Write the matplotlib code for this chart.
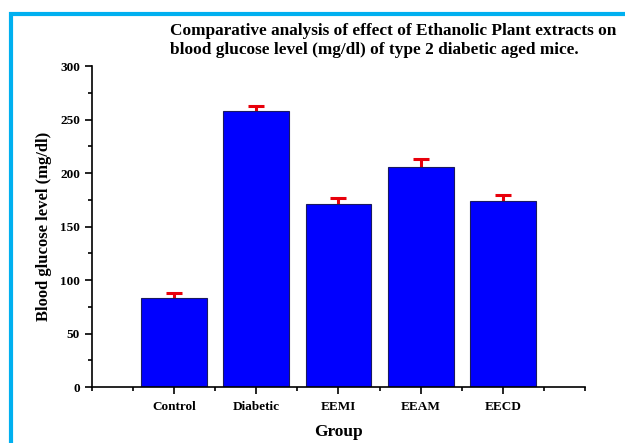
import numpy as np
import matplotlib
matplotlib.use("Agg")
import matplotlib.pyplot as plt
from matplotlib.patches import Rectangle
from matplotlib.ticker import MultipleLocator, FixedLocator

groups = ["Control", "Diabetic", "EEMI", "EEAM", "EECD"]
glucose = [83, 258, 171, 206, 174]
sem = [5, 4.5, 5.5, 7, 5.5]

plt.rcParams["font.family"] = ["Liberation Serif", "DejaVu Serif"]
plt.rcParams["font.weight"] = "bold"

fig = plt.figure(figsize=(6.25, 4.43), dpi=100)
ax = fig.add_axes([0.147, 0.126, 0.789, 0.725])

x = np.arange(1, len(groups) + 1)
# error bars sit behind the bars so only the upper half shows
ax.errorbar(x, glucose, yerr=sem, fmt="none",
            ecolor="#e8000b", elinewidth=2.2, capsize=6, capthick=2.2, zorder=1)
ax.bar(x, glucose, width=0.8, color="#0000FF", edgecolor="#1a1a60", lw=0.8, zorder=2)

ax.set_xlim(0, 6)
ax.set_ylim(0, 300)
ax.set_xticks(x)
ax.set_xticklabels(groups, fontsize=10.5, fontweight="bold")
ax.xaxis.set_minor_locator(FixedLocator([0, 0.5, 1.5, 2.5, 3.5, 4.5, 5.5, 6]))
ax.yaxis.set_major_locator(MultipleLocator(50))
ax.yaxis.set_minor_locator(MultipleLocator(25))
ax.tick_params(which="major", direction="out", length=5, width=1.2, labelsize=9.5)
ax.tick_params(axis="x", which="major", pad=5)
ax.tick_params(which="minor", direction="out", length=3, width=1.2)
for lab in ax.get_yticklabels():
    lab.set_fontweight("bold")
for s in ["top", "right"]:
    ax.spines[s].set_visible(False)
for s in ["left", "bottom"]:
    ax.spines[s].set_linewidth(1.2)

ax.set_xlabel("Group", fontsize=12.5, fontweight="bold", labelpad=8)
ax.set_ylabel("Blood glucose level (mg/dl)", fontsize=12, fontweight="bold", labelpad=6)

fig.text(0.272, 0.948, "Comparative analysis of effect of Ethanolic Plant extracts on\n"
         "blood glucose level (mg/dl) of type 2 diabetic aged mice.",
         fontsize=12.4, fontweight="bold", ha="left", va="top", linespacing=1.28)

# blue frame around the figure
fig.patches.append(Rectangle((11 / 625, -0.05), 1.0, 1 - 14 / 443 + 0.05,
                             transform=fig.transFigure, fill=False,
                             edgecolor="#00b0f0", lw=3))

fig.savefig("out.png", dpi=100)
